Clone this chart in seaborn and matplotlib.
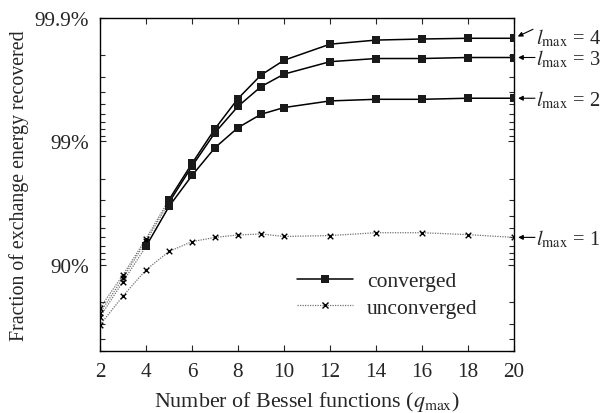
import numpy as np
import pandas as pd
import seaborn as sns
import matplotlib.pyplot as plt
from matplotlib.lines import Line2D
from matplotlib.ticker import FixedLocator, LogLocator, NullFormatter

# q_max values on the x axis
q_values = [2, 3, 4, 5, 6, 7, 8, 9, 10, 12, 14, 16, 18, 20]

# fraction of exchange energy recovered (%)
frac_l1 = [69.2, 82.1, 89.0, 92.2, 93.5, 94.0, 94.26, 94.37, 94.1, 94.2, 94.5, 94.5, 94.3, 94.0]
frac_l2 = [73.5, 86.3, 92.9, 96.63, 98.11, 98.875, 99.226, 99.397, 99.468, 99.53, 99.544, 99.544, 99.553, 99.553]
frac_l3 = [75.4, 87.2, 93.56, 96.87, 98.41, 99.15, 99.48, 99.64, 99.715, 99.774, 99.787, 99.787, 99.791, 99.791]
frac_l4 = [77.6, 87.9, 93.85, 97.03, 98.49, 99.21, 99.55, 99.71, 99.78, 99.837, 99.849, 99.852, 99.854, 99.854]

# first q_max at which each l_max run is converged (None = never)
first_converged = {1: None, 2: 4, 3: 5, 4: 5}

series = {1: frac_l1, 2: frac_l2, 3: frac_l3, 4: frac_l4}

rows = []
for lmax, fr in series.items():
    for q, f in zip(q_values, fr):
        fc = first_converged[lmax]
        rows.append({"lmax": lmax, "q": q, "frac": f,
                     "loss": 1 - f / 100.0,
                     "converged": fc is not None and q >= fc})
df = pd.DataFrame(rows)

sns.set_style("ticks")
plt.rcParams["font.family"] = ["Liberation Serif", "DejaVu Serif"]
plt.rcParams["mathtext.fontset"] = "stix"
plt.rcParams["xtick.direction"] = "in"
plt.rcParams["ytick.direction"] = "in"

fig = plt.figure(figsize=(6.01, 4.14), dpi=100)
ax = fig.add_axes([0.1664, 0.1498, 0.6888, 0.8043])

dot_style = (0, (1, 1))
for lmax in series:
    d = df[df.lmax == lmax]
    fc = first_converged[lmax]
    if fc is None:
        dotted = d
        solid = d.iloc[0:0]
    else:
        dotted = d[d.q <= fc]
        solid = d[d.converged]
    sns.lineplot(data=dotted, x="q", y="loss", ax=ax, color="0.45",
                 linestyle=dot_style, linewidth=0.9, estimator=None, sort=False)
    if len(solid):
        sns.lineplot(data=solid, x="q", y="loss", ax=ax, color="black",
                     linewidth=1.1, estimator=None, sort=False)
    unc = d[~d.converged]
    sns.scatterplot(data=unc, x="q", y="loss", ax=ax, marker="x", color="black",
                    s=16, linewidth=1.0, zorder=4)
    if len(solid):
        sns.scatterplot(data=solid, x="q", y="loss", ax=ax, marker="s", color="#1a1a1a",
                        s=30, linewidth=0, zorder=5)

ax.set_yscale("log")
ax.set_ylim(0.5, 0.001)
ax.set_xlim(2, 20)
ax.yaxis.set_major_locator(FixedLocator([0.1, 0.01, 0.001]))
ax.set_yticklabels(["90%", "99%", "99.9%"])
ax.yaxis.set_minor_locator(LogLocator(base=10, subs=np.arange(2, 10)))
ax.yaxis.set_minor_formatter(NullFormatter())
ax.set_xticks(range(2, 21, 2))

ax.tick_params(which="both", top=True, right=True, labelsize=15.3)
ax.tick_params(axis="y", pad=8)
ax.tick_params(axis="x", pad=8)
ax.tick_params(which="major", length=4.5, width=0.8)
ax.tick_params(which="minor", length=3.5, width=0.8)
for s in ax.spines.values():
    s.set_linewidth(1.0)
    s.set_color("black")

ax.set_xlabel(r"Number of Bessel functions ($q_{\rm max}$)", fontsize=15.8, labelpad=5.5)
ax.set_ylabel("Fraction of exchange energy recovered", fontsize=14.3, labelpad=4)

handles = [
    Line2D([0, 0.5, 1], [0, 0, 0], color="black", linewidth=1.1, marker="s", markersize=5.5,
           markevery=[1], markerfacecolor="#1a1a1a", markeredgewidth=0),
    Line2D([0, 0.5, 1], [0, 0, 0], color="0.45", linewidth=0.9, linestyle=dot_style,
           marker="x", markersize=4.5, markeredgecolor="black", markevery=[1]),
]
ax.legend(handles, ["converged", "unconverged"], loc="lower left",
          bbox_to_anchor=(0.476, 0.1), frameon=False, fontsize=15.5, borderpad=0,
          borderaxespad=0, handlelength=2.6, handletextpad=0.65, labelspacing=0.3)

# l_max labels with arrows on the right (offsets in pixels from the q=20 point)
text_dy = {4: 1, 3: -1, 2: -1, 1: -1}
arrow_start = {4: (19, 9), 3: (21, 0), 2: (21, 0), 1: (21, 0)}
px = 0.72
for lmax in series:
    y = df[(df.lmax == lmax) & (df.q == 20)].loss.values[0]
    ax.annotate(r"$l_{\rm max}$ = %d" % lmax, xy=(20, y), xycoords="data",
                xytext=(22 * px, text_dy[lmax] * px), textcoords="offset points",
                fontsize=14.8, va="center", ha="left", annotation_clip=False)
    sx, sy = arrow_start[lmax]
    ax.annotate("", xy=(20, y), xycoords="data",
                xytext=(sx * px, sy * px), textcoords="offset points",
                annotation_clip=False,
                arrowprops=dict(arrowstyle="-|>", color="black", lw=0.8,
                                mutation_scale=7, shrinkA=0, shrinkB=3))

fig.savefig("out.png", dpi=100)
